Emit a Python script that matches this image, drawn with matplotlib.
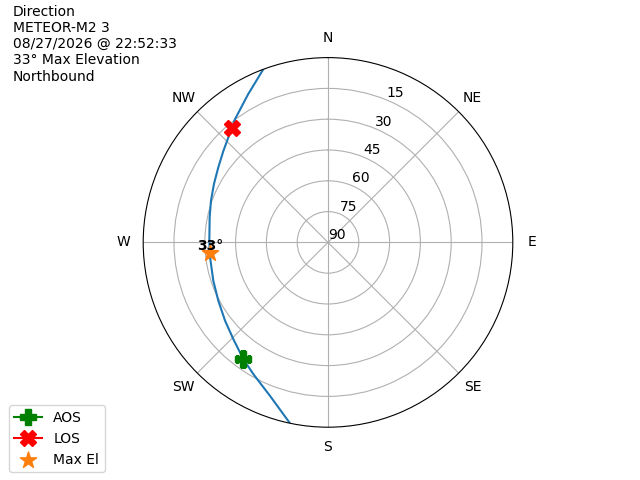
import numpy as np
import matplotlib
matplotlib.use('Agg')
import matplotlib.pyplot as plt

# pass track (azimuth deg, elevation deg), AOS side first
track_az = [192.1, 200.7, 209.6, 216.0, 224.4, 232.7, 242.0, 251.5, 263.5, 270.8,
            281.9, 289.6, 297.1, 304.3, 311.2, 316.5, 323.0, 331.7, 339.5]
track_el = [0.3, 10.1, 16.3, 19.8, 24.1, 27.0, 29.5, 31.1, 32.1, 32.2,
            31.1, 29.5, 27.6, 25.3, 22.3, 19.5, 14.8, 8.0, 0.0]

aos_az, aos_el = 216.1, 19.8
los_az, los_el = 320.1, 17.2
max_az, max_el = 265.0, 32.4
max_el_text = '33°'

r_ticks = [0, 15, 30, 45, 60, 75]
r_labels = ['90', '75', '60', '45', '30', '15']
theta_labels = ['N', 'NE', 'E', 'SE', 'S', 'SW', 'W', 'NW']

info = 'Direction\nMETEOR-M2 3\n08/27/2026 @ 22:52:33\n33° Max Elevation\nNorthbound'

fig = plt.figure(figsize=(6.4, 4.8), dpi=100)
ax = fig.add_subplot(111, projection='polar')
ax.set_theta_zero_location('N')
ax.set_theta_direction(-1)

ax.plot(np.radians(track_az), 90 - np.array(track_el), color='C0', linewidth=1.5)
ax.plot(np.radians(aos_az), 90 - aos_el, marker='P', color='green', markersize=12, label='AOS')
ax.plot(np.radians(los_az), 90 - los_el, marker='X', color='red', markersize=12, label='LOS')
ax.scatter(np.radians(max_az), 90 - max_el, marker='*', color='C1', s=150, zorder=3, label='Max El')
ax.text(np.radians(max_az), 90 - max_el, max_el_text, fontweight='bold',
        ha='center', va='bottom', zorder=4)

ax.set_ylim(0, 90)
ax.set_yticks(r_ticks)
ax.set_yticklabels(r_labels)
ax.set_xticks(np.radians(np.arange(0, 360, 45)))
ax.set_xticklabels(theta_labels)

fig.text(0.02, 0.99, info, ha='left', va='top')
fig.legend(loc='lower left', bbox_to_anchor=(0.003, 0.002))

fig.savefig('out.png', dpi=100)
